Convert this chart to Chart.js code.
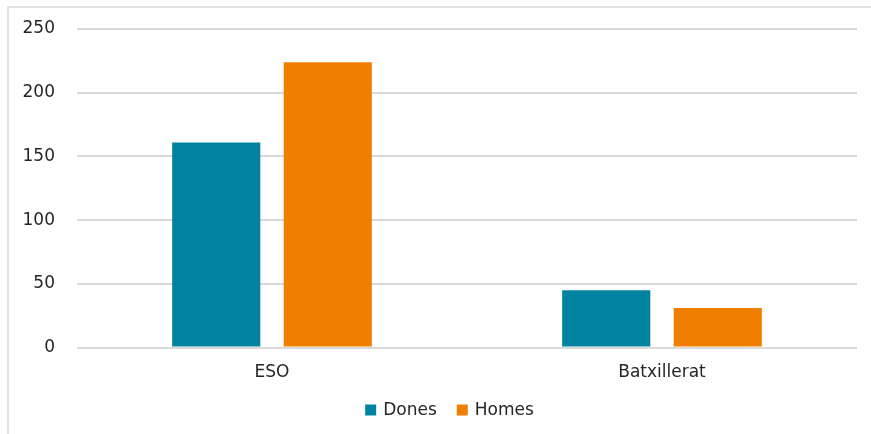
<!DOCTYPE html>
<html>
<head>
<meta charset="utf-8">
<script src="https://cdn.jsdelivr.net/npm/chart.js@4/dist/chart.umd.min.js"></script>
<style>
  html, body { margin: 0; padding: 0; background: #fff; overflow: hidden; }
  #frame { position: absolute; left: 7px; top: 6px; width: 880px; height: 450px; border: 2px solid #e3e3e3; box-sizing: border-box; }
  #wrap { position: absolute; left: 0; top: 0; width: 871px; height: 434px; }
</style>
</head>
<body>
<div id="frame"></div>
<div id="wrap"><canvas id="chart"></canvas></div>
<script>
// Categories and series
const categories = ['ESO', 'Batxillerat'];
const dones = [161, 45];
const homes = [224, 31];
const yTicks = [0, 50, 100, 150, 200, 250];

const FONT = 'DejaVu Sans';
const TEXT = '#262626';

// Legend drawn under the axis, with wider spacing than the built-in one
const bottomLegend = {
  id: 'bottomLegend',
  afterDraw(chart) {
    const c = chart.ctx;
    const items = chart.data.datasets.map(ds => ({ text: ds.label, color: ds.backgroundColor }));
    c.save();
    c.font = '17px "' + FONT + '"';
    c.textBaseline = 'middle';
    const box = 11, gap = 7, spacing = 20;
    const widths = items.map(it => box + gap + c.measureText(it.text).width);
    const total = widths.reduce((a, b) => a + b, 0) + spacing * (items.length - 1);
    let x = chart.width / 2 + 14 - total / 2;
    const y = 410;
    items.forEach((it, i) => {
      c.fillStyle = it.color;
      c.fillRect(x, y - box / 2, box, box);
      c.fillStyle = TEXT;
      c.fillText(it.text, x + box + gap, y + 1);
      x += widths[i] + spacing;
    });
    c.restore();
  }
};

const ctx = document.getElementById('chart').getContext('2d');
const chart = new Chart(ctx, {
  type: 'bar',
  data: {
    labels: categories,
    datasets: [
      { label: 'Dones', data: dones, backgroundColor: '#00839f' },
      { label: 'Homes', data: homes, backgroundColor: '#f07f00' }
    ]
  },
  options: {
    responsive: true,
    maintainAspectRatio: false,
    animation: false,
    categoryPercentage: 0.572,
    barPercentage: 0.79,
    layout: { padding: { left: 0, right: 14, top: 29, bottom: 44 } },
    plugins: {
      tooltip: { enabled: false },
      legend: { display: false }
    },
    scales: {
      x: {
        grid: { display: false },
        border: { display: false },
        ticks: { color: TEXT, padding: 7, font: { family: FONT, size: 17 } }
      },
      y: {
        min: 0,
        max: 250,
        afterFit: function (scale) {
          scale.width = 77;
          scale.paddingTop = 0;
          scale.paddingBottom = 0;
        },
        afterBuildTicks: function (scale) { scale.ticks = yTicks.map(v => ({ value: v })); },
        grid: { color: '#d9d9d9', lineWidth: 2, drawTicks: false },
        border: { display: false },
        ticks: { color: TEXT, padding: 22, font: { family: FONT, size: 17 } }
      }
    }
  },
  plugins: [bottomLegend]
});
</script>
</body>
</html>
